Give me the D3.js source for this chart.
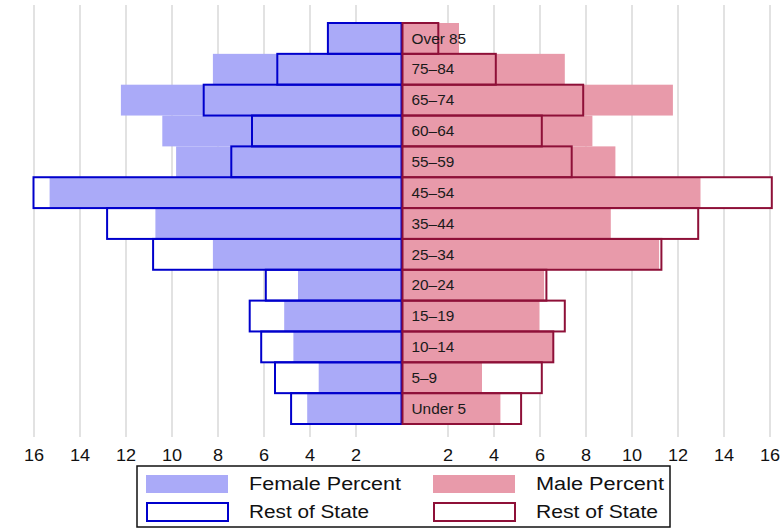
<!DOCTYPE html>
<html>
<head>
<meta charset="utf-8">
<script src="https://cdn.jsdelivr.net/npm/d3@7"></script>
<style>
  html, body { margin: 0; padding: 0; background: #fff; }
  svg { display: block; }
  text { font-family: "Liberation Sans", Arial, sans-serif; }
</style>
</head>
<body>
<svg id="chart" width="782" height="529"></svg>
<script>
// ---- data (percent of population) ----
const ages = ["Over 85", "75–84", "65–74", "60–64", "55–59", "45–54", "35–44", "25–34", "20–24", "15–19", "10–14", "5–9", "Under 5"];
const femalePercent = [3.2, 8.2, 12.2, 10.4, 9.8, 15.3, 10.7, 8.2, 4.5, 5.1, 4.7, 3.6, 4.1];
const femaleRest    = [3.2, 5.4, 8.6, 6.5, 7.4, 16.0, 12.8, 10.8, 5.9, 6.6, 6.1, 5.5, 4.8];
const malePercent   = [2.5, 7.1, 11.8, 8.3, 9.3, 13.0, 9.1, 11.2, 6.2, 6.0, 6.6, 3.5, 4.3];
const maleRest      = [1.6, 4.1, 7.9, 6.1, 7.4, 16.1, 12.9, 11.3, 6.3, 7.1, 6.6, 6.1, 5.2];
const tickValues = [-16, -14, -12, -10, -8, -6, -4, -2, 2, 4, 6, 8, 10, 12, 14, 16];
const legendLabels = ["Female Percent", "Rest of State", "Male Percent", "Rest of State"];

const colors = {
  femaleFill: "#aaaaf8",
  femaleLine: "#0000cc",
  maleFill: "#e89aaa",
  maleLine: "#8e1038",
  grid: "#e2e2e2"
};

const svg = d3.select("#chart");
const x = d3.scaleLinear().domain([-16, 16]).range([33.5, 769.5]);
const y = d3.scaleBand().domain(ages).range([23, 424]).padding(0);

const gridTop = 5, gridBottom = 437;

// gridlines
svg.append("g")
  .attr("transform", `translate(0,${gridBottom})`)
  .call(d3.axisBottom(x).tickValues(tickValues).tickSize(-(gridBottom - gridTop)).tickFormat(""))
  .call(g => g.select(".domain").remove())
  .call(g => g.selectAll("line").attr("stroke", colors.grid).attr("stroke-width", 2));

// tick labels
svg.append("g")
  .attr("transform", `translate(0,${gridBottom})`)
  .call(d3.axisBottom(x).tickValues(tickValues).tickSize(0).tickFormat(d => Math.abs(d)))
  .call(g => g.select(".domain").remove())
  .call(g => g.selectAll("text")
    .attr("y", 24).attr("dy", 0)
    .attr("fill", "#111")
    .attr("font-size", 16)
    .attr("font-family", "'Liberation Sans', Arial, sans-serif")
    .attr("transform", "scale(1.13,1)"));

const rows = ages.map((a, i) => ({
  age: a, fp: femalePercent[i], fr: femaleRest[i], mp: malePercent[i], mr: maleRest[i]
}));

// white backing for rest-of-state boxes
svg.append("g").selectAll("rect").data(rows).join("rect")
  .attr("x", d => x(-d.fr)).attr("y", d => y(d.age))
  .attr("width", d => x(0) - x(-d.fr)).attr("height", y.bandwidth())
  .attr("fill", "#fff");
svg.append("g").selectAll("rect").data(rows).join("rect")
  .attr("x", x(0)).attr("y", d => y(d.age))
  .attr("width", d => x(d.mr) - x(0)).attr("height", y.bandwidth())
  .attr("fill", "#fff");

// county bars
svg.append("g").selectAll("rect").data(rows).join("rect")
  .attr("x", d => x(-d.fp)).attr("y", d => y(d.age))
  .attr("width", d => x(0) - x(-d.fp)).attr("height", y.bandwidth())
  .attr("fill", colors.femaleFill);
svg.append("g").selectAll("rect").data(rows).join("rect")
  .attr("x", x(0)).attr("y", d => y(d.age))
  .attr("width", d => x(d.mp) - x(0)).attr("height", y.bandwidth())
  .attr("fill", colors.maleFill);

// rest-of-state outlines
svg.append("g").selectAll("rect").data(rows).join("rect")
  .attr("x", d => x(-d.fr)).attr("y", d => y(d.age))
  .attr("width", d => x(0) - x(-d.fr)).attr("height", y.bandwidth())
  .attr("fill", "none").attr("stroke", colors.femaleLine).attr("stroke-width", 2);
svg.append("g").selectAll("rect").data(rows).join("rect")
  .attr("x", x(0) + 1).attr("y", d => y(d.age))
  .attr("width", d => x(d.mr) - x(0) - 1).attr("height", y.bandwidth())
  .attr("fill", "none").attr("stroke", colors.maleLine).attr("stroke-width", 2);

// age labels
const lx = x(0) + 10;
svg.append("g").selectAll("text").data(rows).join("text")
  .attr("x", lx).attr("y", d => y(d.age) + y.bandwidth() / 2)
  .attr("dy", "0.36em")
  .attr("font-size", 14.5)
  .attr("fill", "#1a1a1a")
  .attr("transform", `translate(${lx},0) scale(1.06,1) translate(${-lx},0)`)
  .text(d => d.age);

// legend
const lg = svg.append("g");
lg.append("rect").attr("x", 137).attr("y", 466).attr("width", 533).attr("height", 61)
  .attr("fill", "#fff").attr("stroke", "#111").attr("stroke-width", 1.5);
const items = [
  { label: legendLabels[0], sx: 146, sy: 475, type: "fill", color: colors.femaleFill, tl: 152 },
  { label: legendLabels[1], sx: 146, sy: 503, type: "line", color: colors.femaleLine, tl: 120 },
  { label: legendLabels[2], sx: 433, sy: 475, type: "fill", color: colors.maleFill, tl: 128 },
  { label: legendLabels[3], sx: 433, sy: 503, type: "line", color: colors.maleLine, tl: 122 }
];
items.forEach(it => {
  if (it.type === "fill") {
    lg.append("rect").attr("x", it.sx).attr("y", it.sy).attr("width", 82).attr("height", 18)
      .attr("fill", it.color);
  } else {
    lg.append("rect").attr("x", it.sx + 1).attr("y", it.sy).attr("width", 81).attr("height", 18)
      .attr("fill", "#fff").attr("stroke", it.color).attr("stroke-width", 2);
  }
  lg.append("text").attr("x", it.sx + 103).attr("y", it.sy + 15)
    .attr("font-size", 18).attr("fill", "#111")
    .attr("textLength", it.tl).attr("lengthAdjust", "spacingAndGlyphs")
    .text(it.label);
});
</script>
</body>
</html>
